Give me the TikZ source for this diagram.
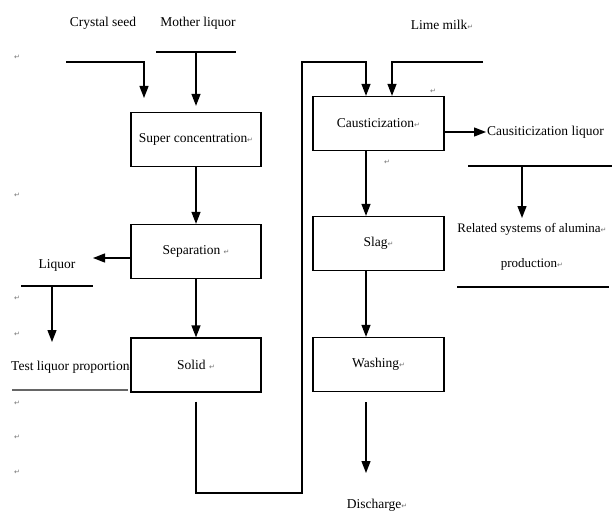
\documentclass[tikz,border=0pt]{standalone}
\usepackage{fontspec}
\setmainfont{Liberation Serif}
\newfontfamily\markfont{DejaVu Sans}
\usetikzlibrary{arrows.meta}
\newcommand{\pmark}{{\markfont\fontsize{7}{7}\selectfont\color{black!55}↵}}

\begin{document}
\begin{tikzpicture}[x=1pt,y=-1pt,
  flow/.style={draw, line width=1.3pt, -{Triangle[length=12pt,width=9pt]}},
  plain/.style={draw, line width=1.3pt},
  stage/.style={draw, line width=1.3pt, fill=white, minimum width=130pt, minimum height=54pt, inner sep=0pt, font=\fontsize{13.5}{15}\selectfont},
  lbl/.style={inner sep=1pt, font=\fontsize{13.5}{15}\selectfont},
  retmark/.style={inner sep=0pt, font=\markfont\fontsize{7}{7}\selectfont, text=black!55}]
\useasboundingbox (0,0) rectangle (612,513);

\node[lbl] (seed) at (103,23) {Crystal seed};
\node[lbl] (mother) at (198,23) {Mother liquor};
\node[lbl] (lime) at (442,25) {Lime milk\pmark};
\node[lbl,anchor=west] (test) at (10,367) {Test liquor proportion\pmark};
\node[stage] (super) at (196,139.5) {Super concentration\pmark};
\node[stage] (sep) at (196,251.5) {Separation \pmark};
\node[stage] (solid) at (196,365) {Solid \pmark};
\node[stage, minimum width=131pt] (caus) at (378.5,123.5) {Causticization\pmark};
\node[stage, minimum width=131pt] (slag) at (378.5,243.5) {Slag\pmark};
\node[stage, minimum width=131pt] (wash) at (378.5,364.5) {Washing\pmark};
\node[lbl] (liq) at (57,265) {Liquor};
\node[lbl,anchor=west] (cliq) at (486,132) {Causiticization liquor};
\node[lbl, align=center, font=\fontsize{13}{35}\selectfont] (rel) at (532,247) {Related systems of alumina\pmark\\production\pmark};
\node[lbl] (dis) at (377,505) {Discharge\pmark};

\foreach \y [count=\i] in {57,195,298,334,403,437,472}
  \node[retmark] (mk\i) at (17,\y) {↵};
\node[retmark] (mk8) at (433,91) {↵};
\node[retmark] (mk9) at (387,162) {↵};

\coordinate (seed-start) at (66,62);
\coordinate (seed-tip) at (144,98);
\draw[flow] (seed-start) -| (seed-tip);
\draw[plain] (156,52) -- (236,52);
\coordinate (mother-bar) at (196,52);
\draw[flow, shorten >=6pt] (mother-bar) -- (super.north);

\draw[flow] (super) -- (sep);
\draw[flow] (sep) -- (solid);
\coordinate (liq-tip) at (93,258);
\draw[flow] (sep.west |- liq-tip) -- (liq-tip);
\draw[plain] (21,286) -- (93,286);
\coordinate (liq-bar) at (52,286);
\coordinate (test-tip) at (52,342);
\draw[flow] (liq-bar) -- (test-tip);
\draw[line width=1.6pt, black!60] (12,390) -- (128,390);

\coordinate (loop-low) at (302,493);
\coordinate (loop-top) at (366,62);
\draw[flow, shorten <=9pt] (solid.south) |- (loop-low) |- (loop-top) -- ([xshift=-12.5pt]caus.north);
\coordinate (lime-start) at (483,62);
\draw[flow] (lime-start) -| ([xshift=13.5pt]caus.north);

\draw[flow] (caus.east |- cliq.west) -- (cliq.west);
\draw[plain] (468,166) -- (612,166);
\coordinate (cliq-bar) at (522,166);
\coordinate (rel-tip) at (522,218);
\draw[flow] (cliq-bar) -- (rel-tip);
\draw[plain] (457,287) -- (609,287);

\draw[flow] ([xshift=-12.5pt]caus.south) -- ([xshift=-12.5pt]slag.north);
\draw[flow] ([xshift=-12.5pt]slag.south) -- ([xshift=-12.5pt]wash.north);
\coordinate (dis-tip) at (366,473);
\draw[flow, shorten <=10pt] ([xshift=-12.5pt]wash.south) -- (dis-tip);
\end{tikzpicture}
\end{document}
